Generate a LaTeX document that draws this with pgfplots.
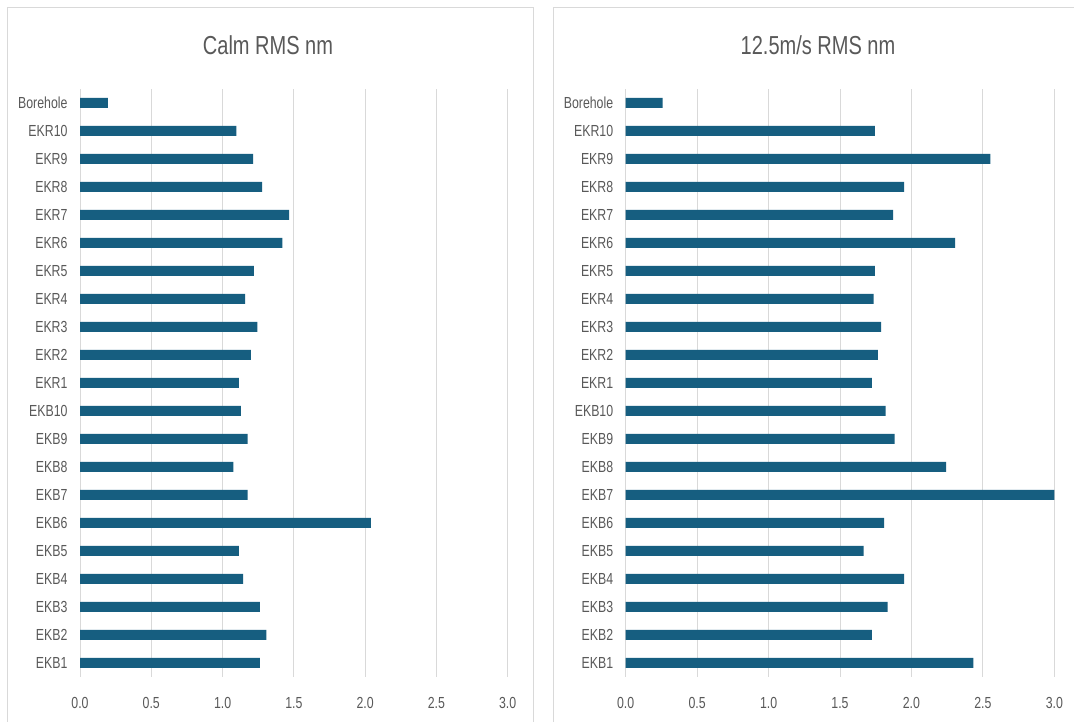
\documentclass[border=0pt]{standalone}
\usepackage{fontspec}
\setmainfont{Liberation Sans}[FakeStretch=0.77]
\usepackage{pgfplots}
\usepackage{pgfplotstable}
\pgfplotsset{compat=1.18}
\definecolor{barc}{RGB}{22,94,128}
\definecolor{gridc}{RGB}{217,217,217}
\definecolor{txtc}{RGB}{89,89,89}

\pgfplotstableread{
idx calm wind
0  1.261 2.434
1  1.307 1.723
2  1.261 1.834
3  1.145 1.948
4  1.114 1.666
5  2.041 1.808
6  1.176 3.010
7  1.075 2.242
8  1.176 1.882
9  1.128 1.820
10 1.114 1.723
11 1.198 1.765
12 1.244 1.787
13 1.159 1.735
14 1.220 1.744
15 1.420 2.306
16 1.466 1.872
17 1.278 1.948
18 1.215 2.552
19 1.097 1.744
20 0.196 0.258
}\data

\pgfplotsset{panel/.style={
  scale only axis, height=588bp,
  xbar, bar width=10bp,
  xmin=0, xmax=3, ymin=-0.5, ymax=20.5,
  ytick={0,...,20},
  yticklabels={EKB1,EKB2,EKB3,EKB4,EKB5,EKB6,EKB7,EKB8,EKB9,EKB10,EKR1,EKR2,EKR3,EKR4,EKR5,EKR6,EKR7,EKR8,EKR9,EKR10,Borehole},
  xtick={0,0.5,1,1.5,2,2.5,3},
  xmajorgrids, grid style={gridc, line width=1bp},
  axis line style={draw=none}, major tick length=0pt,
  tick label style={font=\fontsize{16bp}{19bp}\selectfont, text=txtc},
  xticklabel style={/pgf/number format/.cd, fixed, fixed zerofill, precision=1, assume math mode=true, /tikz/.cd, yshift=-17bp},
  yticklabel style={xshift=-9bp},
  anchor=south west,
}}

\begin{document}
\begin{tikzpicture}[x=1bp,y=1bp]
\useasboundingbox (0,0) rectangle (1075,722);
\fill[white] (0,0) rectangle (1075,722);
% panel borders
\draw[gridc, line width=1bp] (7,-5) -- (7,714) -- (533.5,714) -- (533.5,-5);
\draw[gridc, line width=1bp] (553,-5) -- (553,714) -- (1074,714);
% titles
\node[text=txtc, font=\fontsize{26bp}{30bp}\selectfont] at (268,677) {Calm RMS nm};
\node[text=txtc, font=\fontsize{26bp}{30bp}\selectfont] at (818,677) {12.5m/s RMS nm};

\begin{axis}[panel, width=427.7bp, at={(80bp,45bp)}]
\addplot[fill=barc, draw=none] table[x=calm, y=idx] {\data};
\end{axis}

\begin{axis}[panel, width=428.6bp, at={(625.7bp,45bp)}]
\addplot[fill=barc, draw=none] table[x=wind, y=idx] {\data};
\end{axis}
\end{tikzpicture}
\end{document}
